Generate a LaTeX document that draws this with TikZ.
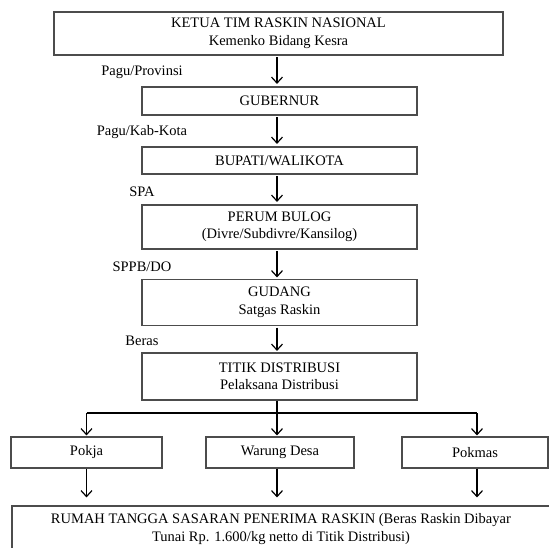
\documentclass[tikz,border=0pt]{standalone}
\usepackage{fontspec}
\setmainfont{Liberation Serif}
\usetikzlibrary{arrows.meta}
\begin{document}
\begin{tikzpicture}[x=1pt,y=-1pt,
  box/.style={draw=black!70, line width=1.1pt, inner sep=0pt, align=center,
    font=\fontsize{14.5}{17.5}\selectfont},
  lab/.style={font=\fontsize{14.5}{17}\selectfont, inner sep=0pt},
  conn/.style={line width=1.2pt, black},
  arr/.style={conn, -{Straight Barb[length=6pt,width=11pt,line width=1.2pt]}}]
\useasboundingbox (0,0) rectangle (549,548);
\node[box, minimum width=449pt, minimum height=43pt] (top) at (278.5,33.5)
  {KETUA TIM RASKIN NASIONAL\\Kemenko Bidang Kesra};
\node[box, minimum width=275pt, minimum height=28pt] (gub) at (279.5,101) {GUBERNUR};
\node[box, minimum width=275pt, minimum height=27pt] (bup) at (279.5,160.5) {BUPATI/WALIKOTA};
\node[box, minimum width=275pt, minimum height=44pt] (bulog) at (279.5,227)
  {PERUM BULOG\\(Divre/Subdivre/Kansilog)};
\node[box, minimum width=275pt, minimum height=46pt] (gudang) at (279.5,302.5)
  {GUDANG\\Satgas Raskin};
\node[box, minimum width=275pt, minimum height=47pt] (titik) at (279.5,376.5)
  {TITIK DISTRIBUSI\\Pelaksana Distribusi};
\node[box, minimum width=151pt, minimum height=31pt] (pokja) at (86.5,452.5) {Pokja};
\node[box, minimum width=148pt, minimum height=31pt] (warung) at (280,452.5) {Warung Desa};
\node[box, minimum width=146pt, minimum height=31pt] (pokmas) at (475,452.5) {Pokmas};
\node[box, minimum width=538pt, minimum height=46pt] (rt) at (281,529)
  {RUMAH TANGGA SASARAN PENERIMA RASKIN (Beras Raskin Dibayar\\Tunai Rp. 1.600/kg netto di Titik Distribusi)};

\node[lab] (l1) at (142,72) {Pagu/Provinsi};
\node[lab] (l2) at (142,132) {Pagu/Kab-Kota};
\node[lab] (l3) at (142,192) {SPA};
\node[lab] (l4) at (142,267) {SPPB/DO};
\node[lab] (l5) at (142,341) {Beras};

\draw[arr, shorten <=1.5pt, shorten >=2.5pt] (top.south -| 277,0) -- (gub.north -| 277,0);
\draw[arr, shorten <=1.5pt, shorten >=2.5pt] (gub.south -| 277,0) -- (bup.north -| 277,0);
\draw[arr, shorten <=1.5pt, shorten >=2.5pt] (bup.south -| 277,0) -- (bulog.north -| 277,0);
\draw[arr, shorten <=1.5pt, shorten >=1.5pt] (bulog.south -| 277,0) -- (gudang.north -| 277,0);
\draw[arr, shorten <=1.5pt, shorten >=1.5pt] (gudang.south -| 277,0) -- (titik.north -| 277,0);

\coordinate (split) at (277,413);
\coordinate (sl) at (86.5,413);
\coordinate (sr) at (477,413);
\draw[conn] (titik.south -| split) -- (split);
\draw[conn] (sl) -- (sr);
\draw[arr, shorten >=1pt] (sl) -- (pokja.north);
\draw[arr, shorten >=1pt] (split) -- (warung.north -| split);
\draw[arr, shorten >=1pt] (sr) -- (pokmas.north -| sr);
\draw[arr, shorten >=8pt] (pokja.south) -- (pokja.south |- rt.north);
\draw[arr, shorten >=8pt] (warung.south -| split) -- (rt.north -| split);
\draw[arr, shorten >=8pt] (pokmas.south -| sr) -- (rt.north -| sr);
\end{tikzpicture}
\end{document}
